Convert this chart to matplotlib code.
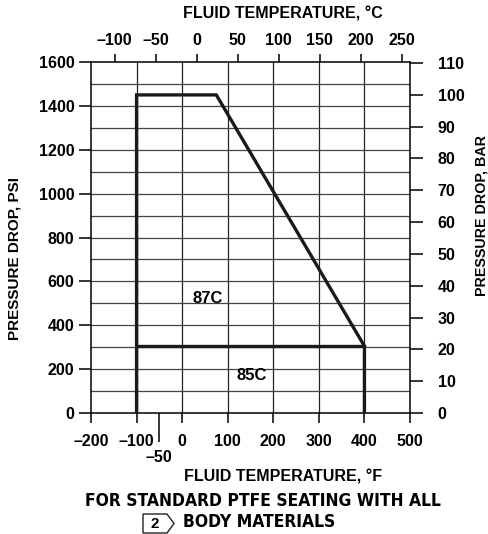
import matplotlib
matplotlib.use("Agg")
import matplotlib.pyplot as plt
from matplotlib.patches import Polygon
from matplotlib import font_manager

W, H = 488, 534
plt.rcParams['font.family'] = ['Liberation Sans', 'DejaVu Sans']
plt.rcParams['font.weight'] = 'bold'
plt.rcParams['font.size'] = 11.5

# boundary of the rating (deg F, psi)
outline_f = [-100, -100, 75, 400, 400]
outline_psi = [0, 1450, 1450, 305, 0]
floor_f = [-100, 400]
floor_psi = [305, 305]

f_ticks = [-200, -100, 0, 100, 200, 300, 400, 500]
c_ticks = [-100, -50, 0, 50, 100, 150, 200, 250]
psi_ticks = [0, 200, 400, 600, 800, 1000, 1200, 1400, 1600]
bar_ticks = [0, 10, 20, 30, 40, 50, 60, 70, 80, 90, 100, 110]
region_labels = ['87C', '85C']
region_f = [55, 153]
region_psi = [524, 169]

PSI_PER_BAR = 14.5038

def neg(v):
    return str(v).replace('-', '\u2013')

def fx(px):
    return px / W

def fy(py):
    return 1 - py / H

# look for a condensed bold sans for the caption
cap_font = None
for f in font_manager.fontManager.ttflist:
    nm = f.name + ' ' + str(f.stretch)
    bold = str(f.weight) in ('bold', '700', '600', 'demibold')
    if bold and ('Narrow' in nm or 'Condensed' in nm or 'condensed' in nm) and 'Mono' not in nm and 'Serif' not in nm:
        cap_font = font_manager.FontProperties(fname=f.fname)
        break
if cap_font is None:
    cap_font = font_manager.FontProperties(family='Liberation Sans', weight='bold')

fig = plt.figure(figsize=(W / 100, H / 100), dpi=100)
ax = fig.add_axes([fx(91), fy(413), fx(410) - fx(91), fy(62) - fy(413)])
ax.set_xlim(-200, 500)
ax.set_ylim(0, 1600)

# grid
for v in range(-100, 500, 100):
    ax.axvline(v, color='#222222', lw=0.9, zorder=1)
for v in range(100, 1600, 100):
    ax.axhline(v, color='#444444', lw=0.9, zorder=1)

ax.plot(outline_f, outline_psi, color='#1a1a1a', lw=2.4, solid_joinstyle='miter', zorder=3)
ax.plot(floor_f, floor_psi, color='#1a1a1a', lw=2.4, zorder=3)

for lab, x, y in zip(region_labels, region_f, region_psi):
    ax.text(x, y, lab, ha='center', va='center', fontsize=12, fontweight='bold')

for s in ax.spines.values():
    s.set_linewidth(1.1)

ax.set_xticks(f_ticks)
ax.set_xticklabels([neg(v) for v in f_ticks])
ax.set_xticks([-50], minor=True)
ax.set_xticklabels([neg(-50)], minor=True)
ax.tick_params(axis='x', which='major', direction='out', length=7, width=1.1, pad=8)
ax.tick_params(axis='x', which='minor', direction='out', length=21, width=1.1, pad=6)
ax.set_yticks(psi_ticks)
ax.tick_params(axis='y', direction='out', length=9, width=1.1, pad=3)

# celsius on top
top = ax.secondary_xaxis('top', functions=(lambda f: (f - 32) * 5 / 9, lambda c: c * 9 / 5 + 32))
top.set_xticks(c_ticks)
top.set_xticklabels([neg(v) for v in c_ticks])
top.tick_params(direction='out', length=6, width=1.1, pad=4)
top.spines['top'].set_visible(False)

# bar on right
right = ax.twinx()
right.set_ylim(0, 1600 / PSI_PER_BAR)
right.set_yticks(bar_ticks)
right.tick_params(direction='out', length=9, width=1.1, pad=11)
for s in right.spines.values():
    s.set_visible(False)

fig.text(fx(283), fy(14), 'FLUID TEMPERATURE, \u00b0C', ha='center', va='center')
fig.text(fx(283), fy(477), 'FLUID TEMPERATURE, \u00b0F', ha='center', va='center')
fig.text(fx(15), fy(259), 'PRESSURE DROP, PSI', ha='center', va='center', rotation=90, fontsize=11)
fig.text(fx(481), fy(215), 'PRESSURE DROP, BAR', ha='center', va='center', rotation=90, fontsize=10.3)

cap1 = fig.text(fx(263), fy(501), 'FOR STANDARD PTFE SEATING WITH ALL', ha='center', va='center',
                fontproperties=cap_font, fontsize=15)
cap2 = fig.text(fx(183), fy(522), 'BODY MATERIALS', ha='left', va='center',
                fontproperties=cap_font, fontsize=15)
# fit caption width to the reference line (~357 px)
fig.canvas.draw()
wpx = cap1.get_window_extent().width
size = min(17.0, 15 * 357 / wpx)
cap1.set_fontsize(size)
cap2.set_fontsize(size)

box = Polygon([(fx(143), fy(514)), (fx(167), fy(514)), (fx(174), fy(523.5)),
               (fx(167), fy(533)), (fx(143), fy(533))], closed=True,
              fill=False, edgecolor='#222222', lw=1.0, transform=fig.transFigure)
fig.add_artist(box)
fig.text(fx(155), fy(523.5), '2', ha='center', va='center', fontsize=11, fontweight='bold')

fig.savefig('out.png', dpi=100)
